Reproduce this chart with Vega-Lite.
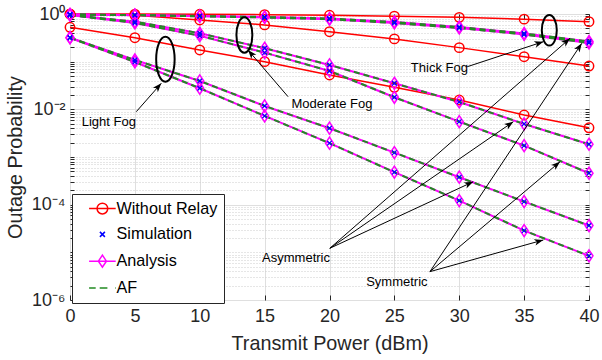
{
  "$schema": "https://vega.github.io/schema/vega-lite/v6.json",
  "width": 519,
  "height": 286,
  "autosize": {"type": "none"},
  "padding": {"left": 70, "top": 14, "right": 13, "bottom": 60},
  "background": "white",
  "config": {
    "view": {"stroke": "#262626", "strokeWidth": 1},
    "font": "Liberation Sans",
    "axis": {"labelFont": "Liberation Sans", "titleFont": "Liberation Sans"},
    "text": {"font": "Liberation Sans"}
  },
  "datasets": {
    "norelay": [
      {"fog": "Thick", "x": 0, "p": 0.999}, {"fog": "Thick", "x": 5, "p": 0.995}, {"fog": "Thick", "x": 10, "p": 0.987},
      {"fog": "Thick", "x": 15, "p": 0.968}, {"fog": "Thick", "x": 20, "p": 0.94}, {"fog": "Thick", "x": 25, "p": 0.9},
      {"fog": "Thick", "x": 30, "p": 0.85}, {"fog": "Thick", "x": 35, "p": 0.78}, {"fog": "Thick", "x": 40, "p": 0.69},
      {"fog": "Moderate", "x": 0, "p": 0.99}, {"fog": "Moderate", "x": 5, "p": 0.94}, {"fog": "Moderate", "x": 10, "p": 0.75},
      {"fog": "Moderate", "x": 15, "p": 0.59}, {"fog": "Moderate", "x": 20, "p": 0.425}, {"fog": "Moderate", "x": 25, "p": 0.3},
      {"fog": "Moderate", "x": 30, "p": 0.197}, {"fog": "Moderate", "x": 35, "p": 0.127}, {"fog": "Moderate", "x": 40, "p": 0.081},
      {"fog": "Light", "x": 0, "p": 0.526}, {"fog": "Light", "x": 5, "p": 0.318}, {"fog": "Light", "x": 10, "p": 0.176},
      {"fog": "Light", "x": 15, "p": 0.1}, {"fog": "Light", "x": 20, "p": 0.0526}, {"fog": "Light", "x": 25, "p": 0.029},
      {"fog": "Light", "x": 30, "p": 0.0157}, {"fog": "Light", "x": 35, "p": 0.0076}, {"fog": "Light", "x": 40, "p": 0.0041}
    ],
    "relay": [
      {"fog": "Thick", "case": "Asymmetric", "x": 0, "analysis": 0.976, "af": 0.976, "sim": 0.976},
      {"fog": "Thick", "case": "Asymmetric", "x": 5, "analysis": 0.953, "af": 0.953, "sim": 0.953},
      {"fog": "Thick", "case": "Asymmetric", "x": 10, "analysis": 0.908, "af": 0.908, "sim": 0.908},
      {"fog": "Thick", "case": "Asymmetric", "x": 15, "analysis": 0.865, "af": 0.865, "sim": 0.865},
      {"fog": "Thick", "case": "Asymmetric", "x": 20, "analysis": 0.805, "af": 0.805, "sim": 0.805},
      {"fog": "Thick", "case": "Asymmetric", "x": 25, "analysis": 0.679, "af": 0.679, "sim": 0.679},
      {"fog": "Thick", "case": "Asymmetric", "x": 30, "analysis": 0.534, "af": 0.534, "sim": 0.534},
      {"fog": "Thick", "case": "Asymmetric", "x": 35, "analysis": 0.39, "af": 0.39, "sim": 0.39},
      {"fog": "Thick", "case": "Asymmetric", "x": 40, "analysis": 0.265, "af": 0.265, "sim": 0.265},
      {"fog": "Thick", "case": "Symmetric", "x": 0, "analysis": 0.976, "af": 0.976, "sim": 0.976},
      {"fog": "Thick", "case": "Symmetric", "x": 5, "analysis": 0.944, "af": 0.944, "sim": 0.944},
      {"fog": "Thick", "case": "Symmetric", "x": 10, "analysis": 0.895, "af": 0.895, "sim": 0.895},
      {"fog": "Thick", "case": "Symmetric", "x": 15, "analysis": 0.845, "af": 0.845, "sim": 0.845},
      {"fog": "Thick", "case": "Symmetric", "x": 20, "analysis": 0.778, "af": 0.778, "sim": 0.778},
      {"fog": "Thick", "case": "Symmetric", "x": 25, "analysis": 0.648, "af": 0.648, "sim": 0.648},
      {"fog": "Thick", "case": "Symmetric", "x": 30, "analysis": 0.508, "af": 0.508, "sim": 0.508},
      {"fog": "Thick", "case": "Symmetric", "x": 35, "analysis": 0.372, "af": 0.372, "sim": 0.372},
      {"fog": "Thick", "case": "Symmetric", "x": 40, "analysis": 0.247, "af": 0.247, "sim": 0.247},
      {"fog": "Moderate", "case": "Asymmetric", "x": 0, "analysis": 0.953, "af": 0.953, "sim": 0.953},
      {"fog": "Moderate", "case": "Asymmetric", "x": 5, "analysis": 0.69, "af": 0.69, "sim": 0.69},
      {"fog": "Moderate", "case": "Asymmetric", "x": 10, "analysis": 0.394, "af": 0.394, "sim": 0.394},
      {"fog": "Moderate", "case": "Asymmetric", "x": 15, "analysis": 0.191, "af": 0.191, "sim": 0.191},
      {"fog": "Moderate", "case": "Asymmetric", "x": 20, "analysis": 0.0853, "af": 0.0853, "sim": 0.0853},
      {"fog": "Moderate", "case": "Asymmetric", "x": 25, "analysis": 0.0352, "af": 0.0352, "sim": 0.0352},
      {"fog": "Moderate", "case": "Asymmetric", "x": 30, "analysis": 0.0143, "af": 0.0143, "sim": 0.0143},
      {"fog": "Moderate", "case": "Asymmetric", "x": 35, "analysis": 0.00494, "af": 0.00494, "sim": 0.00494},
      {"fog": "Moderate", "case": "Asymmetric", "x": 40, "analysis": 0.00185, "af": 0.00185, "sim": 0.00185},
      {"fog": "Moderate", "case": "Symmetric", "x": 0, "analysis": 0.953, "af": 0.953, "sim": 0.953},
      {"fog": "Moderate", "case": "Symmetric", "x": 5, "analysis": 0.648, "af": 0.648, "sim": 0.648},
      {"fog": "Moderate", "case": "Symmetric", "x": 10, "analysis": 0.351, "af": 0.351, "sim": 0.351},
      {"fog": "Moderate", "case": "Symmetric", "x": 15, "analysis": 0.155, "af": 0.155, "sim": 0.155},
      {"fog": "Moderate", "case": "Symmetric", "x": 20, "analysis": 0.0638, "af": 0.0638, "sim": 0.0638},
      {"fog": "Moderate", "case": "Symmetric", "x": 25, "analysis": 0.0179, "af": 0.0179, "sim": 0.0179},
      {"fog": "Moderate", "case": "Symmetric", "x": 30, "analysis": 0.00552, "af": 0.00552, "sim": 0.00552},
      {"fog": "Moderate", "case": "Symmetric", "x": 35, "analysis": 0.00173, "af": 0.00173, "sim": 0.00173},
      {"fog": "Moderate", "case": "Symmetric", "x": 40, "analysis": 0.000457, "af": 0.000457, "sim": 0.000457},
      {"fog": "Light", "case": "Asymmetric", "x": 0, "analysis": 0.318, "af": 0.318, "sim": 0.318},
      {"fog": "Light", "case": "Asymmetric", "x": 5, "analysis": 0.1086, "af": 0.1086, "sim": 0.1086},
      {"fog": "Light", "case": "Asymmetric", "x": 10, "analysis": 0.0394, "af": 0.0394, "sim": 0.0394},
      {"fog": "Light", "case": "Asymmetric", "x": 15, "analysis": 0.01178, "af": 0.01178, "sim": 0.01178},
      {"fog": "Light", "case": "Asymmetric", "x": 20, "analysis": 0.00402, "af": 0.00402, "sim": 0.00402},
      {"fog": "Light", "case": "Asymmetric", "x": 25, "analysis": 0.001236, "af": 0.001236, "sim": 0.001236},
      {"fog": "Light", "case": "Asymmetric", "x": 30, "analysis": 0.000377, "af": 0.000377, "sim": 0.000377},
      {"fog": "Light", "case": "Asymmetric", "x": 35, "analysis": 0.0001161, "af": 0.0001161, "sim": 0.0001161},
      {"fog": "Light", "case": "Asymmetric", "x": 40, "analysis": 0.0000365, "af": 0.0000365, "sim": 0.0000365},
      {"fog": "Light", "case": "Symmetric", "x": 0, "analysis": 0.318, "af": 0.318, "sim": 0.318},
      {"fog": "Light", "case": "Symmetric", "x": 5, "analysis": 0.0986, "af": 0.0986, "sim": 0.0986},
      {"fog": "Light", "case": "Symmetric", "x": 10, "analysis": 0.0277, "af": 0.0277, "sim": 0.0277},
      {"fog": "Light", "case": "Symmetric", "x": 15, "analysis": 0.00728, "af": 0.00728, "sim": 0.00728},
      {"fog": "Light", "case": "Symmetric", "x": 20, "analysis": 0.00195, "af": 0.00195, "sim": 0.00195},
      {"fog": "Light", "case": "Symmetric", "x": 25, "analysis": 0.00048, "af": 0.00048, "sim": 0.00048},
      {"fog": "Light", "case": "Symmetric", "x": 30, "analysis": 0.000122, "af": 0.000122, "sim": 0.000122},
      {"fog": "Light", "case": "Symmetric", "x": 35, "analysis": 0.0000286, "af": 0.0000286, "sim": 0.0000286},
      {"fog": "Light", "case": "Symmetric", "x": 40, "analysis": 0.00000845, "af": 0.00000845, "sim": 0.00000845}
    ],
    "notes": [
      {"text": "Light Fog", "x": 2.99, "y": 0.0055},
      {"text": "Moderate Fog", "x": 20.19, "y": 0.01294},
      {"text": "Thick Fog", "x": 28.47, "y": 0.0747},
      {"text": "Asymmetric", "x": 17.42, "y": 0.0000075},
      {"text": "Symmetric", "x": 25.19, "y": 0.00000242}
    ],
    "arrows": [
      {"x": 5.108, "y": 0.00892, "x2": 7.037, "y2": 0.03517},
      {"x": 16.806, "y": 0.01842, "x2": 13.719, "y2": 0.1757},
      {"x": 30.617, "y": 0.0784, "x2": 36.481, "y2": 0.2624},
      {"x": 20.023, "y": 0.00001216, "x2": 38.542, "y2": 0.3092},
      {"x": 20.023, "y": 0.00001216, "x2": 34.167, "y2": 0.0055},
      {"x": 20.023, "y": 0.00001216, "x2": 31.08, "y2": 0.000303},
      {"x": 27.739, "y": 0.00000393, "x2": 39.444, "y2": 0.2428},
      {"x": 27.739, "y": 0.00000393, "x2": 37.77, "y2": 0.000797},
      {"x": 27.739, "y": 0.00000393, "x2": 36.48, "y2": 0.00001816}
    ],
    "ellipses": [
      {"name": "Light", "x": 7.353, "y": 0.1126},
      {"name": "Moderate", "x": 13.44, "y": 0.3627},
      {"name": "Thick", "x": 36.94, "y": 0.455}
    ],
    "legend": [
      {"item": "Without Relay"}, {"item": "Simulation"}, {"item": "Analysis"}, {"item": "AF"}
    ]
  },
  "resolve": {"axis": {"x": "independent", "y": "independent"}},
  "layer": [
    {
      "data": {"name": "norelay"},
      "mark": {"type": "line", "color": "#ff0000", "strokeWidth": 1.5},
      "encoding": {
        "x": {"field": "x", "type": "quantitative", "scale": {"domain": [0, 40], "nice": false, "zero": false},
          "axis": {"orient": "bottom", "values": [0, 5, 10, 15, 20, 25, 30, 35, 40], "title": "Transmit Power (dBm)",
            "titleFontSize": 19.8, "titleFontWeight": "normal", "titleColor": "#262626", "titlePadding": 8,
            "labelFontSize": 18, "labelColor": "#262626", "labelPadding": 12, "labelFlush": false,
            "tickSize": -5, "tickColor": "#262626", "grid": true, "gridColor": "#dfdfdf", "domain": false}},
        "y": {"field": "p", "type": "quantitative", "scale": {"type": "log", "domain": [0.000001, 1], "nice": false},
          "axis": {"orient": "left",
            "values": [1e-6, 2e-6, 3e-6, 4e-6, 5e-6, 6e-6, 7e-6, 8e-6, 9e-6, 1e-5, 2e-5, 3e-5, 4e-5, 5e-5, 6e-5, 7e-5, 8e-5, 9e-5, 1e-4, 2e-4, 3e-4, 4e-4, 5e-4, 6e-4, 7e-4, 8e-4, 9e-4, 1e-3, 2e-3, 3e-3, 4e-3, 5e-3, 6e-3, 7e-3, 8e-3, 9e-3, 1e-2, 2e-2, 3e-2, 4e-2, 5e-2, 6e-2, 7e-2, 8e-2, 9e-2, 0.1, 0.2, 0.3, 0.4, 0.5, 0.6, 0.7, 0.8, 0.9, 1],
            "labelExpr": "datum.value === 1 ? '10⁰' : datum.value === 0.01 ? '10⁻²' : datum.value === 0.0001 ? '10⁻⁴' : datum.value === 0.000001 ? '10⁻⁶' : ''",
            "labelOverlap": false, "labelFontSize": 18, "labelColor": "#262626", "labelPadding": 9,
            "tickSize": -4, "tickColor": "#262626", "grid": true,
            "gridColor": {"condition": {"test": "indexof([1, 0.01, 0.0001, 0.000001], datum.value) >= 0", "value": "#dfdfdf"}, "value": "#cccccc"},
            "gridDash": {"condition": {"test": "indexof([1, 0.01, 0.0001, 0.000001], datum.value) >= 0", "value": []}, "value": [1, 2]},
            "domain": false, "title": "Outage Probability", "titleFontSize": 19.8, "titleFontWeight": "normal",
            "titleColor": "#262626", "titlePadding": 6}},
        "detail": {"field": "fog", "type": "nominal"}
      }
    },
    {
      "data": {"name": "relay"},
      "mark": {"type": "line", "color": "#ff00ff", "strokeWidth": 2},
      "encoding": {
        "x": {"field": "x", "type": "quantitative", "scale": {"domain": [0, 40], "nice": false, "zero": false},
          "axis": {"orient": "top", "values": [0, 5, 10, 15, 20, 25, 30, 35, 40], "labels": false, "grid": false,
            "domain": false, "tickSize": -5, "tickColor": "#262626", "title": null}},
        "y": {"field": "analysis", "type": "quantitative", "scale": {"type": "log", "domain": [0.000001, 1], "nice": false},
          "axis": {"orient": "right",
            "values": [1e-6, 2e-6, 3e-6, 4e-6, 5e-6, 6e-6, 7e-6, 8e-6, 9e-6, 1e-5, 2e-5, 3e-5, 4e-5, 5e-5, 6e-5, 7e-5, 8e-5, 9e-5, 1e-4, 2e-4, 3e-4, 4e-4, 5e-4, 6e-4, 7e-4, 8e-4, 9e-4, 1e-3, 2e-3, 3e-3, 4e-3, 5e-3, 6e-3, 7e-3, 8e-3, 9e-3, 1e-2, 2e-2, 3e-2, 4e-2, 5e-2, 6e-2, 7e-2, 8e-2, 9e-2, 0.1, 0.2, 0.3, 0.4, 0.5, 0.6, 0.7, 0.8, 0.9, 1],
            "labels": false, "grid": false, "domain": false, "tickSize": -4, "tickColor": "#262626", "title": null}},
        "detail": [{"field": "fog", "type": "nominal"}, {"field": "case", "type": "nominal"}]
      }
    },
    {
      "data": {"name": "relay"},
      "mark": {"type": "line", "color": "#228b22", "strokeWidth": 2, "strokeDash": [6, 4]},
      "encoding": {
        "x": {"field": "x", "type": "quantitative", "scale": {"domain": [0, 40], "nice": false, "zero": false}, "axis": null},
        "y": {"field": "af", "type": "quantitative", "scale": {"type": "log", "domain": [0.000001, 1], "nice": false}, "axis": null},
        "detail": [{"field": "fog", "type": "nominal"}, {"field": "case", "type": "nominal"}]
      }
    },
    {
      "data": {"name": "norelay"},
      "mark": {"type": "point", "shape": "circle", "filled": false, "color": "#ff0000", "size": 88, "strokeWidth": 1.5, "opacity": 1},
      "encoding": {
        "x": {"field": "x", "type": "quantitative", "scale": {"domain": [0, 40], "nice": false, "zero": false}, "axis": null},
        "y": {"field": "p", "type": "quantitative", "scale": {"type": "log", "domain": [0.000001, 1], "nice": false}, "axis": null}
      }
    },
    {
      "data": {"name": "relay"},
      "mark": {"type": "point", "shape": "M0,-1L0.667,0L0,1L-0.667,0Z", "filled": false, "color": "#ff00ff", "size": 144, "strokeWidth": 1.5, "opacity": 1},
      "encoding": {
        "x": {"field": "x", "type": "quantitative", "scale": {"domain": [0, 40], "nice": false, "zero": false}, "axis": null},
        "y": {"field": "analysis", "type": "quantitative", "scale": {"type": "log", "domain": [0.000001, 1], "nice": false}, "axis": null}
      }
    },
    {
      "data": {"name": "relay"},
      "mark": {"type": "point", "shape": "M-1,-1L1,1M-1,1L1,-1", "filled": false, "color": "#0000ff", "size": 20, "strokeWidth": 1.2, "opacity": 1},
      "encoding": {
        "x": {"field": "x", "type": "quantitative", "scale": {"domain": [0, 40], "nice": false, "zero": false}, "axis": null},
        "y": {"field": "sim", "type": "quantitative", "scale": {"type": "log", "domain": [0.000001, 1], "nice": false}, "axis": null}
      }
    },
    {
      "data": {"name": "ellipses"},
      "transform": [{"filter": "datum.name === 'Light'"}],
      "mark": {"type": "point", "shape": "M0,-1A0.41,1 0 1,1 0,1A0.41,1 0 1,1 0,-1", "filled": false, "color": "#000000", "size": 2025, "strokeWidth": 2, "opacity": 1},
      "encoding": {
        "x": {"field": "x", "type": "quantitative", "scale": {"domain": [0, 40], "nice": false, "zero": false}, "axis": null},
        "y": {"field": "y", "type": "quantitative", "scale": {"type": "log", "domain": [0.000001, 1], "nice": false}, "axis": null}
      }
    },
    {
      "data": {"name": "ellipses"},
      "transform": [{"filter": "datum.name === 'Moderate'"}],
      "mark": {"type": "point", "shape": "M0,-1A0.45,1 0 1,1 0,1A0.45,1 0 1,1 0,-1", "filled": false, "color": "#000000", "size": 1253, "strokeWidth": 2, "opacity": 1},
      "encoding": {
        "x": {"field": "x", "type": "quantitative", "scale": {"domain": [0, 40], "nice": false, "zero": false}, "axis": null},
        "y": {"field": "y", "type": "quantitative", "scale": {"type": "log", "domain": [0.000001, 1], "nice": false}, "axis": null}
      }
    },
    {
      "data": {"name": "ellipses"},
      "transform": [{"filter": "datum.name === 'Thick'"}],
      "mark": {"type": "point", "shape": "M0,-1A0.49,1 0 1,1 0,1A0.49,1 0 1,1 0,-1", "filled": false, "color": "#000000", "size": 936, "strokeWidth": 2, "opacity": 1},
      "encoding": {
        "x": {"field": "x", "type": "quantitative", "scale": {"domain": [0, 40], "nice": false, "zero": false}, "axis": null},
        "y": {"field": "y", "type": "quantitative", "scale": {"type": "log", "domain": [0.000001, 1], "nice": false}, "axis": null}
      }
    },
    {
      "data": {"name": "arrows"},
      "mark": {"type": "rule", "color": "#000000", "strokeWidth": 1},
      "encoding": {
        "x": {"field": "x", "type": "quantitative", "scale": {"domain": [0, 40], "nice": false, "zero": false}, "axis": null},
        "y": {"field": "y", "type": "quantitative", "scale": {"type": "log", "domain": [0.000001, 1], "nice": false}, "axis": null},
        "x2": {"field": "x2"},
        "y2": {"field": "y2"}
      }
    },
    {
      "data": {"name": "arrows"},
      "transform": [{"calculate": "atan2((datum.x2 - datum.x) * 12.975, log(datum.y2 / datum.y) / LN10 * 47.67) * 180 / PI", "as": "angle"}],
      "mark": {"type": "point", "shape": "M0,0L0.55,1.5L0,1.1L-0.55,1.5Z", "filled": true, "color": "#000000", "size": 144, "strokeWidth": 0, "opacity": 1},
      "encoding": {
        "x": {"field": "x2", "type": "quantitative", "scale": {"domain": [0, 40], "nice": false, "zero": false}, "axis": null},
        "y": {"field": "y2", "type": "quantitative", "scale": {"type": "log", "domain": [0.000001, 1], "nice": false}, "axis": null},
        "angle": {"field": "angle", "type": "quantitative", "scale": null}
      }
    },
    {
      "data": {"name": "notes"},
      "mark": {"type": "text", "font": "Liberation Sans", "fontSize": 13, "color": "#000000", "align": "center", "baseline": "middle"},
      "encoding": {
        "x": {"field": "x", "type": "quantitative", "scale": {"domain": [0, 40], "nice": false, "zero": false}, "axis": null},
        "y": {"field": "y", "type": "quantitative", "scale": {"type": "log", "domain": [0.000001, 1], "nice": false}, "axis": null},
        "text": {"field": "text", "type": "nominal"}
      }
    },
    {
      "data": {"name": "legend"},
      "mark": {"type": "point", "filled": false, "opacity": 0, "size": 100},
      "encoding": {
        "color": {"field": "item", "type": "nominal",
          "scale": {"domain": ["Without Relay", "Simulation", "Analysis", "AF"], "range": ["#ff0000", "#0000ff", "#ff00ff", "#228b22"]},
          "legend": {"title": null, "orient": "none", "legendX": 2, "legendY": 180, "symbolSize": 100, "symbolStrokeWidth": 1.5,
            "symbolOpacity": 1, "labelFont": "Liberation Sans", "labelFontSize": 16.2, "labelColor": "#000000", "padding": 6.5,
            "rowPadding": 8.8, "symbolOffset": 15.8, "labelOffset": 6, "strokeColor": "#262626", "fillColor": "#ffffff",
            "labelExpr": "datum.label + '\u00a0\u00a0\u00a0'"}},
        "shape": {"field": "item", "type": "nominal",
          "scale": {"domain": ["Without Relay", "Simulation", "Analysis", "AF"],
            "range": ["M-2.66,0L2.66,0M1.07,0A1.07,1.07 0 1,1 -1.07,0A1.07,1.07 0 1,1 1.07,0", "M-0.5,-0.5L0.5,0.5M-0.5,0.5L0.5,-0.5", "M-2.66,0L2.66,0M0,-1.2L0.8,0L0,1.2L-0.8,0Z", "M-2.66,0L-1.34,0M-0.54,0L1.0,0M2.54,0L2.66,0"]},
          "legend": {"title": null, "orient": "none", "legendX": 2, "legendY": 180, "symbolSize": 100, "symbolStrokeWidth": 1.5,
            "symbolOpacity": 1, "labelFont": "Liberation Sans", "labelFontSize": 16.2, "labelColor": "#000000", "padding": 6.5,
            "rowPadding": 8.8, "symbolOffset": 15.8, "labelOffset": 6, "strokeColor": "#262626", "fillColor": "#ffffff",
            "labelExpr": "datum.label + '\u00a0\u00a0\u00a0'"}}
      }
    }
  ]
}
